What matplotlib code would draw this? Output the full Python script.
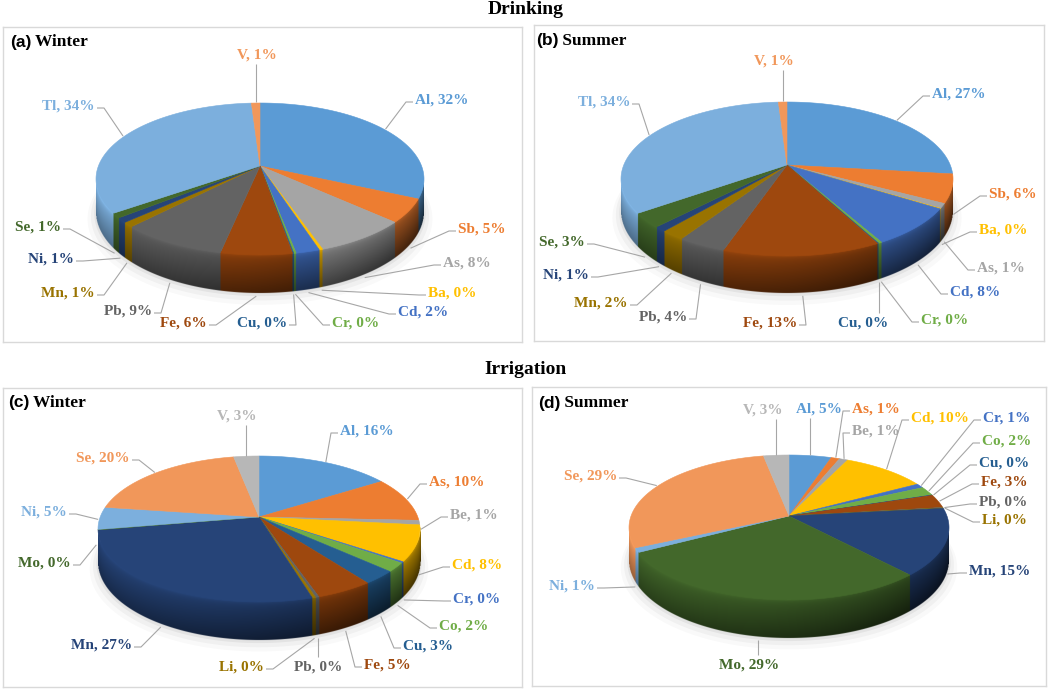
import numpy as np
import matplotlib.pyplot as plt
from matplotlib.colors import to_rgb

# ---- data (percent shares, clockwise from 12 o'clock) ----
drink_elems = ['Al', 'Sb', 'As', 'Ba', 'Cd', 'Cr', 'Cu', 'Fe', 'Pb', 'Mn', 'Ni', 'Se', 'Tl', 'V']
drink_winter = [32, 5, 8, 0.3, 2, 0.2, 0.1, 6, 9, 1, 1, 1, 34, 1]
drink_summer = [27, 6, 1, 0.1, 8, 0.3, 0.1, 13, 4, 2, 1, 3, 34, 1]

irr_elems = ['Al', 'As', 'Be', 'Cd', 'Cr', 'Co', 'Cu', 'Fe', 'Pb', 'Li', 'Mn', 'Mo', 'Ni', 'Se', 'V']
irr_winter = [16, 10, 1, 8, 0.3, 2, 3, 5, 0.3, 0.3, 27, 0.1, 5, 20, 3]
irr_summer = [5, 1, 1, 10, 1, 2, 0.1, 3, 0.1, 0.1, 15, 29, 1, 29, 3]

palette = ['#5B9BD5', '#ED7D31', '#A5A5A5', '#FFC000', '#4472C4', '#70AD47',
           '#255E91', '#9E480E', '#636363', '#997300', '#264478', '#43682B',
           '#7CAFDD', '#F1975A', '#B7B7B7']

# ---- layout (pixels) ----
W, H = 1052, 689
SERIF = ['Liberation Serif', 'DejaVu Serif']
SANS = ['Liberation Sans', 'DejaVu Sans']

# panel box, pie geometry (cx, apex y, half width, back, front, depth), tag position
panels = [
    dict(box=(3, 27, 522, 342), geom=(260, 166, 164, 63, 89, 38), tag=(10, 42),
         tagtxt=('(a)', 'Winter'), elems=drink_elems, vals=drink_winter,
         labels=[(415, 100, 'l'), (458, 229, 'l'), (443, 263, 'l'), (428, 293, 'l'),
                 (398, 312, 'l'), (332, 323, 'l'), (287, 323, 'r'), (207, 323, 'r'),
                 (152, 311, 'r'), (95, 293, 'r'), (74, 259, 'r'), (61, 227, 'r'),
                 (95, 106, 'r'), (257, 55, 'b')]),
    dict(box=(534, 25, 1044, 341), geom=(787, 165, 166, 63, 91, 37), tag=(536, 41),
         tagtxt=('(b)', 'Summer'), elems=drink_elems, vals=drink_summer,
         labels=[(932, 94, 'l'), (989, 194, 'l'), (977, 268, 'l'), (979, 230, 'l'),
                 (950, 292, 'l'), (921, 320, 'l'), (863, 323, 't'), (797, 323, 'r'),
                 (687, 317, 'r'), (628, 303, 'r'), (589, 275, 'r'), (585, 242, 'r'),
                 (630, 102, 'r'), (774, 61, 'b')]),
    dict(box=(3, 388, 522, 687), geom=(259, 517, 161, 61, 85, 38), tag=(8, 403),
         tagtxt=('(c)', 'Winter'), elems=irr_elems, vals=irr_winter,
         labels=[(340, 431, 'l'), (429, 482, 'l'), (450, 515, 'l'), (452, 565, 'l'),
                 (453, 599, 'l'), (439, 626, 'l'), (403, 646, 'l'), (364, 665, 'l'),
                 (318, 667, 't'), (264, 667, 'r'), (132, 645, 'r'), (71, 563, 'r'),
                 (67, 512, 'r'), (130, 458, 'r'), (237, 416, 'b')]),
    dict(box=(532, 387, 1046, 686), geom=(789, 516, 160, 61, 84, 38), tag=(538, 403),
         tagtxt=('(d)', 'Summer'), elems=irr_elems, vals=irr_summer,
         labels=[(819, 409, 'b'), (852, 409, 'l'), (852, 431, 'l'), (911, 418, 'l'),
                 (983, 418, 'l'), (982, 441, 'l'), (979, 463, 'l'), (981, 482, 'l'),
                 (979, 502, 'l'), (982, 520, 'l'), (969, 571, 'l'), (749, 665, 't'),
                 (595, 586, 'r'), (617, 476, 'r'), (763, 410, 'b')]),
]

fig = plt.figure(figsize=(W / 100, H / 100), dpi=100)
fig.text(526 / W, 1 - 10 / H, 'Drinking', ha='center', va='center', fontsize=14,
         fontweight='bold', family=SERIF)
fig.text(526 / W, 1 - 370 / H, 'Irrigation', ha='center', va='center', fontsize=14,
         fontweight='bold', family=SERIF)


def draw_panel(p):
    x0, y0, x1, y1 = p['box']
    ax = fig.add_axes([x0 / W, 1 - y1 / H, (x1 - x0) / W, (y1 - y0) / H])
    ax.set_xticks([])
    ax.set_yticks([])
    for s in ax.spines.values():
        s.set_color('#D9D9D9')
        s.set_linewidth(1)

    cx, cy, half_w, back, front, dd = p['geom']
    k = (front - back) / (front + back)
    ry = back * (1 + k)
    rx = half_w * np.sqrt(1 - k * k)
    h = dd * (1 - k)

    def proj(t, z=0.0, r=1.0):
        u = r * np.cos(t)
        v = r * np.sin(t)
        q = 1 / (1 + k * v)
        return cx + rx * u * q, cy - ry * v * q + h * z * q

    vals = np.asarray(p['vals'], float)
    frac = vals / vals.sum()
    edges = np.pi / 2 - 2 * np.pi * np.concatenate([[0], np.cumsum(frac)])
    cols = palette[:len(vals)]
    rgb = np.array([to_rgb(c) for c in cols])

    # soft shadow
    tt = np.linspace(0, 2 * np.pi, 240)
    for c, a, dy in [(1.05, 0.025, 6), (1.03, 0.035, 4), (1.01, 0.05, 2)]:
        sx, sy = proj(tt, 1.0, c)
        ax.fill(sx, sy + dy, color='k', alpha=a, lw=0, zorder=0.5)

    # side wall: shaded image of the visible front arc
    ts = np.linspace(-np.pi + np.arcsin(k), -np.arcsin(k), 3000)
    xt, yt = proj(ts, 0.0)
    _, yb = proj(ts, 1.0)
    step = 0.5
    xs = np.arange(xt.min(), xt.max(), step) + step / 2
    ys = np.arange(yt.min() - 2, yb.max() + 2, step) + step / 2
    T = np.interp(xs, xt, ts)
    YT = np.interp(xs, xt, yt)
    YB = np.interp(xs, xt, yb)
    Z = (ys[:, None] - YT[None, :]) / (YB - YT)[None, :]
    idx = np.clip(np.searchsorted(-edges, -T, side='right') - 1, 0, len(vals) - 1)
    S = 0.8 - 0.2 * np.cos(T)[None, :] - 0.36 * np.clip(Z, 0, 1) \
        + 0.12 * np.exp(-np.clip(Z, 0, 1) / 0.06)
    img = np.clip(rgb[idx][None, :, :] * S[..., None], 0, 1)
    alpha = np.clip((YB[None, :] - ys[:, None]) / step + 0.5, 0, 1) * (Z >= -0.05)
    img = np.dstack([img, alpha])
    ax.imshow(img, extent=(xs[0] - step / 2, xs[-1] + step / 2,
                           ys[-1] + step / 2, ys[0] - step / 2),
              origin='upper', aspect='auto', zorder=0.8)

    # top faces
    for i in range(len(vals)):
        n = max(2, int(abs(edges[i] - edges[i + 1]) / 0.01) + 2)
        tw = np.linspace(edges[i], edges[i + 1], n)
        px, py = proj(tw)
        ax.fill(np.r_[cx, px], np.r_[cy, py], color=cols[i], ec=cols[i], lw=0.4, zorder=1)

    # data labels with leader lines
    line_kw = dict(color='#A6A6A6', lw=0.8, solid_capstyle='butt', zorder=2)
    for i, (lx, ly, side) in enumerate(p['labels']):
        tm = 0.5 * (edges[i] + edges[i + 1])
        z = float(np.clip(-np.sin(tm) * 2.5, 0, 1))
        axp, ayp = proj(tm, z, 1.01)
        ayp += 2 * z
        txt = f"{p['elems'][i]}, {100 * frac[i]:.0f}%"
        kw = dict(fontsize=11, fontweight='bold', family=SERIF, color=cols[i],
                  va='center', zorder=3)
        if side == 'l':
            ax.text(lx, ly, txt, ha='left', **kw)
            ax.plot([axp, lx - 9, lx - 2], [ayp, ly + 2, ly + 2], **line_kw)
        elif side == 'r':
            ax.text(lx, ly, txt, ha='right', **kw)
            ax.plot([axp, lx + 9, lx + 2], [ayp, ly + 2, ly + 2], **line_kw)
        elif side == 'b':
            ax.text(lx, ly, txt, ha='center', **kw)
            ex = np.clip(axp, lx - 20, lx + 20)
            ax.plot([axp, ex], [ayp, ly + 9], **line_kw)
        else:
            ax.text(lx, ly, txt, ha='center', **kw)
            ex = np.clip(axp, lx - 22, lx + 22)
            ax.plot([axp, ex], [ayp, ly - 10], **line_kw)

    # panel tag
    tx, ty = p['tag']
    t1 = ax.text(tx, ty, p['tagtxt'][0], ha='left', va='center', fontsize=12.5,
                 fontweight='bold', family=SANS)
    ax.annotate(' ' + p['tagtxt'][1], xy=(1, 0.5), xycoords=t1, ha='left', va='center',
                fontsize=12.5, fontweight='bold', family=SERIF)

    ax.set_xlim(x0, x1)
    ax.set_ylim(y1, y0)


for p in panels:
    draw_panel(p)

fig.savefig('out.png', dpi=100, facecolor='white')
